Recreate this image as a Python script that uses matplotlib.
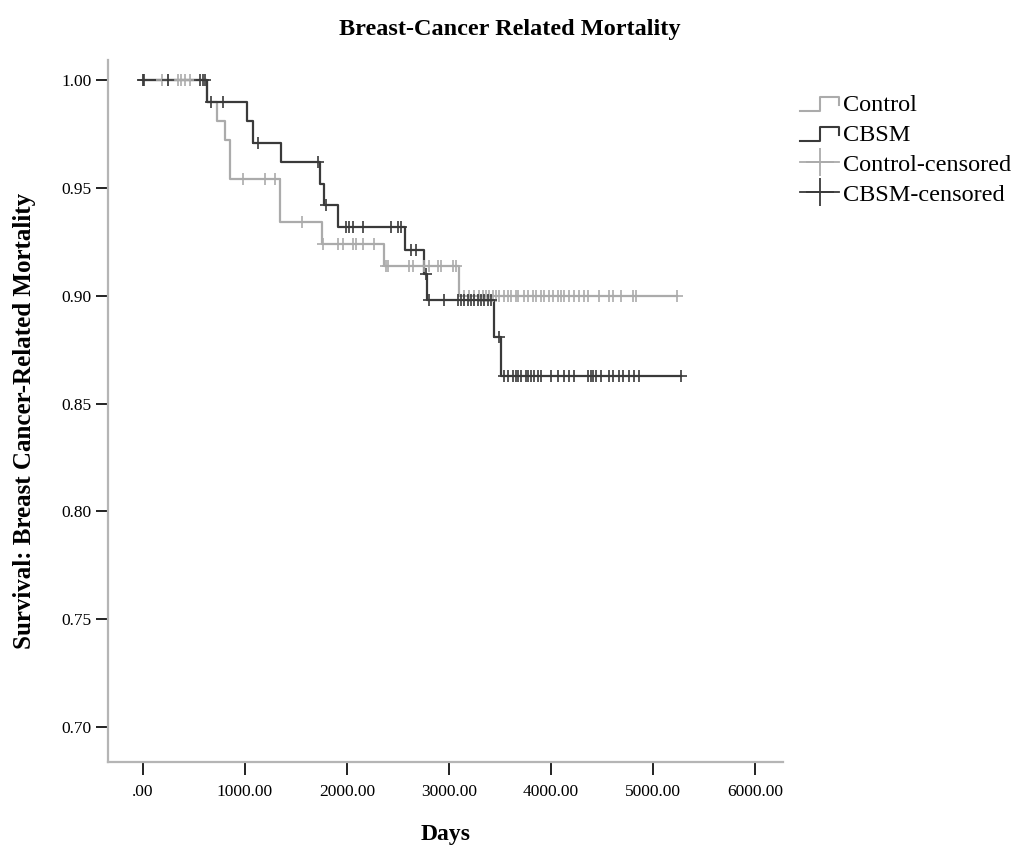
import numpy as np
import matplotlib
matplotlib.use("Agg")
import matplotlib.pyplot as plt
from matplotlib.lines import Line2D
from matplotlib.legend_handler import HandlerBase

plt.rcParams['font.family'] = ['Liberation Serif', 'DejaVu Serif']

# Kaplan-Meier steps
ctrl_times = [0, 626, 725, 806, 855, 1347, 1757, 2365, 3097, 5240]
ctrl_surv = [1.000, 0.990, 0.981, 0.972, 0.954, 0.934, 0.924, 0.914, 0.900, 0.900]
cbsm_times = [0, 626, 1015, 1078, 1357, 1740, 1773, 1911, 2570, 2753, 2788, 3440, 3510, 5280]
cbsm_surv = [1.000, 0.990, 0.981, 0.971, 0.962, 0.952, 0.942, 0.932, 0.921, 0.910, 0.898, 0.881, 0.863, 0.863]

ctrl_cens = [0, 187, 246, 344, 374, 413, 462, 983, 1199, 1298, 1563, 1770, 1917, 1957,
             2055, 2085, 2153, 2262, 2380, 2399, 2606, 2645, 2753, 2802, 2891, 2920, 3038,
             3068, 3147, 3196, 3245, 3294, 3333, 3363, 3392, 3432, 3461, 3491, 3540, 3579,
             3609, 3658, 3677, 3736, 3776, 3825, 3854, 3904, 3933, 3982, 4022, 4071, 4100,
             4130, 4179, 4228, 4277, 4326, 4366, 4474, 4572, 4612, 4690, 4808, 4838, 5240]
cbsm_cens = [0, 10, 246, 560, 590, 610, 662, 787, 1131, 1721, 1790, 1986, 2016, 2055, 2153,
             2429, 2498, 2527, 2625, 2675, 2773, 2802, 2950, 3087, 3117, 3147, 3186, 3215,
             3245, 3284, 3314, 3343, 3383, 3412, 3491, 3540, 3579, 3628, 3658, 3677, 3707,
             3756, 3776, 3805, 3835, 3874, 3904, 4002, 4071, 4130, 4179, 4228, 4366, 4395,
             4415, 4445, 4494, 4572, 4612, 4671, 4710, 4769, 4818, 4867, 5280]

ctrl_color = '#ababab'
cbsm_color = '#3a3a3a'


def surv_at(times, surv, t):
    idx = np.searchsorted(times, t, side='right') - 1
    return np.asarray(surv)[idx]


class StepHandler(HandlerBase):
    def create_artists(self, legend, orig_handle, xd, yd, w, h, fontsize, trans):
        xs = np.array([0, 0.5, 0.5, 1.0, 1.0]) * w - xd
        ys = np.array([0.0, 0.0, 0.8, 0.8, 0.35]) * h - yd
        ln = Line2D(xs, ys, color=orig_handle.get_color(), lw=1.5)
        ln.set_transform(trans)
        return [ln]


fig = plt.figure(figsize=(10.24, 8.49), dpi=100)
ax = fig.add_axes([0.1055, 0.1025, 0.659, 0.8268])

l1, = ax.step(ctrl_times, ctrl_surv, where='post', color=ctrl_color, lw=1.6)
l2, = ax.step(cbsm_times, cbsm_surv, where='post', color=cbsm_color, lw=1.6)
ax.plot(ctrl_cens, surv_at(ctrl_times, ctrl_surv, ctrl_cens), '+', color=ctrl_color,
        ms=9, mew=1.2, ls='none')
ax.plot(cbsm_cens, surv_at(cbsm_times, cbsm_surv, cbsm_cens), '+', color=cbsm_color,
        ms=9, mew=1.2, ls='none')

ax.set_xlim(-343, 6275)
ax.set_ylim(0.6838, 1.0093)
ax.set_xticks(np.arange(0, 6001, 1000))
ax.set_xticklabels(['.00'] + ['%d.00' % v for v in range(1000, 6001, 1000)])
ax.set_yticks([0.70, 0.75, 0.80, 0.85, 0.90, 0.95, 1.00])
ax.set_yticklabels(['%.2f' % v for v in [0.70, 0.75, 0.80, 0.85, 0.90, 0.95, 1.00]])
ax.tick_params(labelsize=12.5, length=9, width=1.4, color='#222222', direction='out')
ax.tick_params(axis='x', pad=7)
ax.tick_params(axis='y', pad=3)
for s in ['top', 'right']:
    ax.spines[s].set_visible(False)
for s in ['left', 'bottom']:
    ax.spines[s].set_color('#b5b5b5')
    ax.spines[s].set_linewidth(1.6)

fig.text(0.498, 0.965, 'Breast-Cancer Related Mortality', fontsize=17.5, fontweight='bold',
         ha='center', va='center')
ax.set_xlabel('Days', fontsize=17, fontweight='bold')
ax.xaxis.set_label_coords(0.5, -0.089)
ax.set_ylabel('Survival: Breast Cancer-Related Mortality', fontsize=18, fontweight='bold')
ax.yaxis.set_label_coords(-0.107, 0.486)

h3 = Line2D([], [], color=ctrl_color, marker='+', ms=20, mew=1.3, lw=1.3)
h4 = Line2D([], [], color=cbsm_color, marker='+', ms=20, mew=1.3, lw=1.3)
fig.legend([l1, l2, h3, h4], ['Control', 'CBSM', 'Control-censored', 'CBSM-censored'],
           loc='upper left', bbox_to_anchor=(0.772, 0.901), frameon=False, fontsize=17.5,
           handler_map={l1: StepHandler(), l2: StepHandler()}, handlelength=1.6,
           handletextpad=0.15, labelspacing=0.33, borderaxespad=0)

fig.savefig('out.png', dpi=100)
